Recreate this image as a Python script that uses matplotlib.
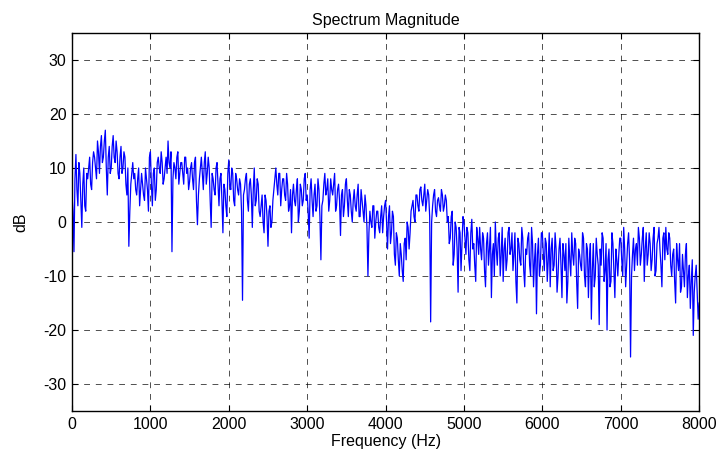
import numpy as np
import matplotlib.pyplot as plt

plt.rcParams['font.family'] = ['Liberation Sans', 'DejaVu Sans']
plt.rcParams['axes.unicode_minus'] = False

# magnitude in dB, every 25 Hz (one row = 200 Hz)
mag_db = [
    5, -5.5, 12.5, 3, 9, -1, 10, 2,
    8, 12, 6, 13, 10, 15, 9, 16,
    12, 17, 5, 14, 10, 16, 11, 13,
    8, 14, 10, 12, 5, -4.5, 7, 11,
    9, 5, 10, 6, 7, 4, 8, 2,
    13, 3, 10, 6, 12, 9, 11, 8,
    12, 15, 10, -5.5, 11, 8, 13, 9,
    11, 7, 12, 10, 7.5, 11, 6, 12,
    -0.5, 8, 12, 6, 13, 9, 10, -1,
    8, 5, 11, 3, 9, -2, 6, 1,
    11.5, 6, 9, 3, 8, 5, 7, -14.5,
    6, 9, 2, 8, -1, 10, 4, 7,
    1, 5, -2, 4, -4.5, 3, 0, 6,
    10, 5, 9, 6, 8, 4, 7, 3,
    -2, 7, 3, 8, 2, 6, 4, 9,
    5, -3, 8, 1, 7, 3, 6, -7,
    4, 9, 6, 2, 8, 5, 9, 3,
    7, -2.5, 6, 3, 8, 1, 5, 0,
    6, 2, 7, 1, 4, 0, 3, -10,
    2, -1, 3, 0, 2, -2, 3, 1,
    4, -5, 3, -2, 1, -8, -3, -10,
    -6, -11, -3, 0, -5, 2, 4, 0,
    5, 2, 6.5, 3, 7, 4, 5, -18.5,
    3, 6, 1, 4.5, 2, 5, 3, 4,
    1, -3, 2, -6, -1, -13, -2, -4,
    0, -6, -2, -9, 0.5, -4, -11, -3,
    -1, -7, -3, -12, -2, -5, -14, -4,
    0, -8, -2, -6, -11, -3, -7, -1,
    -5, -9, -2, -15, -4, -8, -3, -12,
    -6, -2, -10, -4, -7, -17, -3, -8,
    -2, -9, -4, -7, -12, -3, -8, -5,
    -10, -3, -14, -6, -4, -11, -7, -2,
    -8, -4, -16, -6, -9, -3, -12, -5,
    -7, -18, -4, -10, -6, -19, -8, -3,
    -9, -20, -5, -11, -4, -14, -7, -6,
    -3, -10, -5, -8, -2, -25, -6, -9,
    -4, -1, -8, -3, -11, -2, -6, -4,
    -7, -1, -9, -3, -5, -12, -2, -1,
    -6, -3, -10, -5, -15, -7, -4, -12,
    -9, -6, -14, -8, -11, -21, -10, -13,
    -15,
]

# values in between, at 12.5 Hz past each of the points above
mag_db_mid = [
    2, 8, 6, 11, 4, 7, 3, 9,
    10, 7, 11, 12, 8, 13, 14, 11,
    15, 10, 12, 9, 14, 12, 15, 9,
    12, 9, 13, 7, 10, 2, 9, 8,
    6, 8, 3, 9, 5, 10, 6, 12,
    7, 9, 4, 11, 10, 13, 7, 10,
    9, 11, 13, 8, 10, 12, 7, 11,
    9, 12, 9, 6, 10, 8, 11, 4,
    5, 10, 9, 11, 7, 12, 4, 9,
    6, 10, 7, 8, 4, 7, 3, 9,
    7, 10, 4, 9, 6, 8, 2, 5,
    8, 4, 7, 5, 6, 3, 8, 2,
    3, 0, 5, 1, 2, -1, 4, 8,
    7, 9, 3, 8, 5, 9, 2, 6,
    5, 4, 6, 0, 7, 3, 8, 4,
    2, 6, 4, 5, 2, 8, 1, 3,
    7, 5, 8, 4, 6, 7, 2, 6,
    4, 5, 1, 7, 4, 6, 2, 4,
    3, 5, 1, 6, 2, 5, -1, -2,
    0, 3, -3, 2, -1, 1, -2, 3,
    0, 1, -4, 2, -6, -2, -7, -4,
    -9, -4, -7, -1, -2, 3, 1, 5,
    3, 6, 4, 5, 2, 6, 1, 0,
    5, 2, 4, 3, 6, 2, 5, 0,
    -4, 1, -8, 0, -5, -1, -9, 1,
    -3, -1, -7, -2, -5, -8, -1, -6,
    -5, -2, -9, -4, -8, -1, -6, -10,
    -5, -3, -10, -1, -5, -9, -2, -6,
    -2, -6, -11, -3, -7, -1, -9, -5,
    -3, -8, -1, -12, -4, -6, -10, -2,
    -6, -3, -11, -2, -5, -9, -2, -13,
    -5, -8, -4, -9, -15, -3, -10, -6,
    -3, -11, -5, -8, -2, -10, -4, -14,
    -4, -9, -12, -3, -8, -5, -2, -11,
    -4, -7, -12, -2, -9, -5, -10, -3,
    -7, -1, -12, -4, -7, -10, -3, -5,
    -8, -3, -6, -1, -5, -8, -2, -9,
    -3, -10, -4, -1, -8, -3, -7, -5,
    -2, -8, -6, -11, -4, -9, -13, -6,
    -12, -4, -10, -16, -7, -13, -8, -18,
]

# weave the two sets together into one trace
mag = np.empty(len(mag_db) + len(mag_db_mid))
mag[0::2] = mag_db
mag[1::2] = mag_db_mid
freq = np.linspace(0, 8000, len(mag))

xticks = [0, 1000, 2000, 3000, 4000, 5000, 6000, 7000, 8000]
yticks = [-30, -20, -10, 0, 10, 20, 30]

fig = plt.figure(figsize=(7.23, 4.58), dpi=100)
ax = fig.add_axes([0.0996, 0.1026, 0.8674, 0.8254])

ax.plot(freq, mag, color='#0000ff', linewidth=0.9)

ax.set_xlim(0, 8000)
ax.set_ylim(-35, 35)
ax.set_xticks(xticks)
ax.set_yticks(yticks)
ax.tick_params(direction='in', top=True, right=True, labelsize=11.5, length=4, width=0.8, pad=4)
ax.grid(True, color='black', linestyle=(0, (7, 7)), linewidth=0.6, alpha=0.8)
for s in ax.spines.values():
    s.set_linewidth(1.0)

ax.set_title('Spectrum Magnitude', fontsize=11.5, pad=6)
ax.set_xlabel('Frequency (Hz)', fontsize=11.5, labelpad=2)
ax.set_ylabel('dB', fontsize=11.5, labelpad=11)

fig.savefig('out.png', dpi=100)
